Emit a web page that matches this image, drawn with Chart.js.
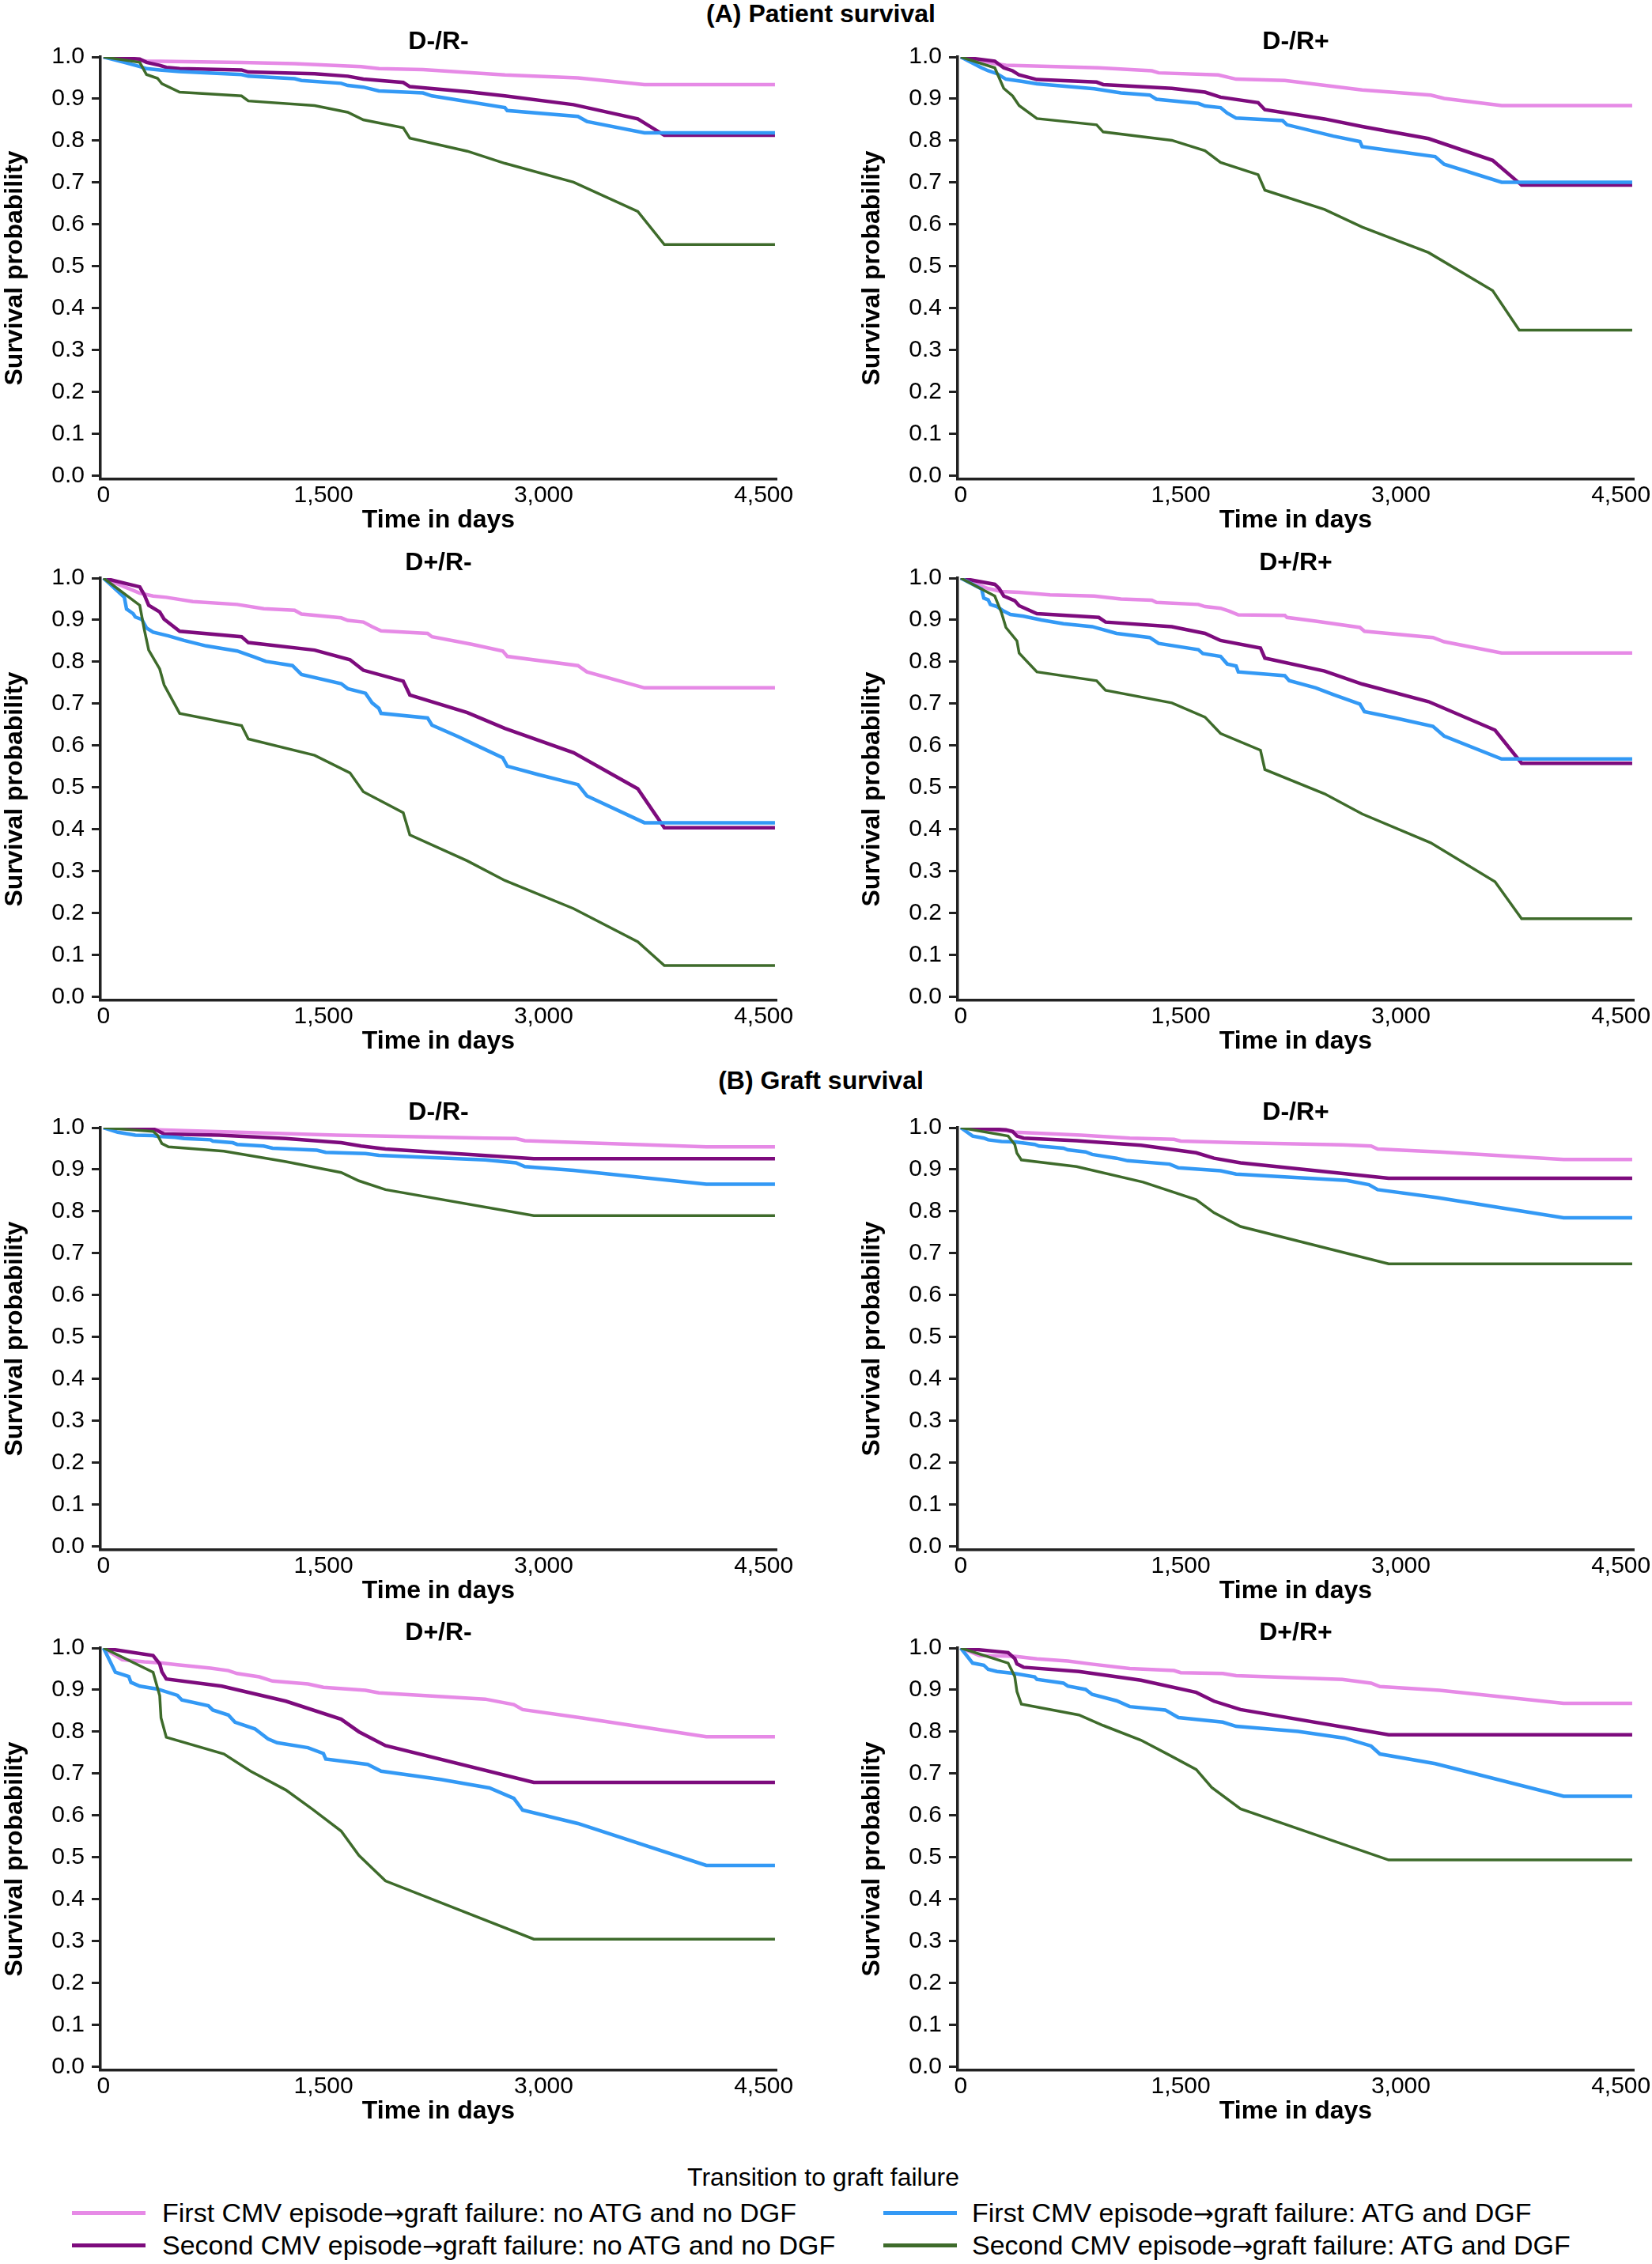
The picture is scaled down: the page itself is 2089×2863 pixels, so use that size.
<!DOCTYPE html>
<html>
<head>
<meta charset="utf-8">
<script src="https://cdn.jsdelivr.net/npm/chart.js@4.4.1/dist/chart.umd.min.js"></script>
<style>
  html, body { margin: 0; padding: 0; background: #fff; }
  body { width: 2089px; height: 2863px; position: relative; overflow: hidden;
         font-family: "Liberation Sans", Arial, sans-serif; color: #000; }
  .box { position: absolute; }
  .section { position: absolute; left: 0; width: 2076px; text-align: center;
             font-weight: bold; font-size: 32px; line-height: 38px; }
  .legtitle { position: absolute; left: 0; width: 2082px; text-align: center; font-size: 32px; line-height: 36px; }
  .legitem { position: absolute; font-size: 34px; line-height: 38px; white-space: nowrap; }
  .arrow { font-family: "DejaVu Sans", sans-serif; font-size: 31px; }
  .swatch { position: absolute; height: 5px; }
</style>
</head>
<body>
<div class="section" style="top:-2px">(A) Patient survival</div>
<div class="section" style="top:1347px">(B) Graft survival</div>

<div class="box" style="left:0;top:26px"><canvas id="a1" width="1044" height="651"></canvas></div>
<div class="box" style="left:1084px;top:26px"><canvas id="a2" width="1044" height="651"></canvas></div>
<div class="box" style="left:0;top:685px"><canvas id="a3" width="1044" height="651"></canvas></div>
<div class="box" style="left:1084px;top:685px"><canvas id="a4" width="1044" height="651"></canvas></div>
<div class="box" style="left:0;top:1380px"><canvas id="b1" width="1044" height="651"></canvas></div>
<div class="box" style="left:1084px;top:1380px"><canvas id="b2" width="1044" height="651"></canvas></div>
<div class="box" style="left:0;top:2038px"><canvas id="b3" width="1044" height="651"></canvas></div>
<div class="box" style="left:1084px;top:2038px"><canvas id="b4" width="1044" height="651"></canvas></div>

<div class="legtitle" style="top:2735px">Transition to graft failure</div>
<div id="legend"></div>

<script>
// ---- data (time in days, survival probability) ----
var panelTitles = ['D-/R-', 'D-/R+', 'D+/R-', 'D+/R+'];
var seriesLabels = [
    'First CMV episode\u2192graft failure: no ATG and no DGF',
    'Second CMV episode\u2192graft failure: no ATG and no DGF',
    'First CMV episode\u2192graft failure: ATG and DGF',
    'Second CMV episode\u2192graft failure: ATG and DGF'
];
var xTickValues = [0, 1500, 3000, 4500];
var xTickLabels = ['0', '1,500', '3,000', '4,500'];
var yTickValues = [0, 0.1, 0.2, 0.3, 0.4, 0.5, 0.6, 0.7, 0.8, 0.9, 1.0];
var yTickLabels = ['0.0', '0.1', '0.2', '0.3', '0.4', '0.5', '0.6', '0.7', '0.8', '0.9', '1.0'];

// (A) patient survival, D-/R-
var patA1First = [[0,1],[293,0.990],[941,0.987],[1303,0.984],[1756,0.977],[1877,0.972],[2178,0.970],[2736,0.957],[3234,0.950],[3687,0.934],[4577,0.934]];
var patA1Second = [[0,1],[247,0.995],[293,0.987],[383,0.980],[428,0.975],[519,0.972],[941,0.969],[987,0.964],[1439,0.960],[1665,0.954],[1771,0.947],[2043,0.939],[2088,0.929],[2480,0.917],[2736,0.907],[3204,0.886],[3642,0.852],[3823,0.813],[4577,0.813]];
var patA1FirstAtg = [[0,1],[142,0.987],[247,0.977],[293,0.972],[383,0.969],[519,0.965],[941,0.958],[987,0.954],[1303,0.948],[1349,0.944],[1620,0.937],[1665,0.932],[1771,0.928],[1877,0.919],[2178,0.914],[2239,0.907],[2736,0.879],[2752,0.872],[3234,0.858],[3295,0.846],[3687,0.819],[4577,0.819]];
var patA1SecondAtg = [[0,1],[247,0.987],[293,0.958],[368,0.949],[398,0.936],[519,0.916],[941,0.907],[987,0.895],[1439,0.884],[1665,0.868],[1771,0.850],[2043,0.831],[2088,0.806],[2480,0.775],[2736,0.746],[3204,0.701],[3642,0.631],[3823,0.552],[4577,0.552]];

// (A) patient survival, D-/R+
var patA2First = [[0,1],[247,0.983],[308,0.980],[941,0.974],[1303,0.967],[1349,0.962],[1756,0.957],[1877,0.947],[2209,0.944],[2736,0.921],[3204,0.909],[3295,0.901],[3687,0.884],[4577,0.884]];
var patA2Second = [[0,1],[232,0.990],[293,0.974],[353,0.967],[398,0.957],[519,0.946],[926,0.940],[971,0.934],[1439,0.925],[1665,0.916],[1771,0.904],[2027,0.891],[2073,0.874],[2480,0.852],[2736,0.834],[3189,0.805],[3626,0.753],[3823,0.694],[4577,0.694]];
var patA2FirstAtg = [[0,1],[142,0.974],[187,0.967],[247,0.960],[308,0.947],[413,0.942],[519,0.936],[911,0.924],[1092,0.914],[1288,0.909],[1334,0.899],[1620,0.889],[1665,0.883],[1771,0.879],[1816,0.866],[1877,0.854],[2194,0.848],[2224,0.838],[2540,0.811],[2721,0.798],[2736,0.786],[2963,0.775],[3234,0.762],[3295,0.744],[3687,0.701],[4577,0.701]];
var patA2SecondAtg = [[0,1],[232,0.974],[293,0.925],[353,0.907],[398,0.884],[519,0.853],[926,0.838],[971,0.821],[1439,0.801],[1665,0.776],[1771,0.748],[2027,0.719],[2073,0.682],[2480,0.636],[2736,0.594],[3189,0.533],[3626,0.442],[3807,0.348],[4577,0.348]];

// (A) patient survival, D+/R-
var patA3First = [[0,1],[157,0.977],[247,0.964],[338,0.957],[428,0.954],[609,0.944],[911,0.937],[1092,0.927],[1303,0.923],[1349,0.914],[1620,0.905],[1665,0.899],[1771,0.895],[1831,0.884],[1892,0.874],[2209,0.868],[2239,0.860],[2510,0.842],[2721,0.826],[2752,0.813],[3234,0.791],[3295,0.776],[3687,0.738],[4577,0.738]];
var patA3Second = [[0,1],[247,0.979],[278,0.960],[308,0.935],[383,0.919],[413,0.902],[519,0.873],[941,0.860],[987,0.846],[1439,0.828],[1680,0.805],[1771,0.780],[2043,0.754],[2088,0.721],[2480,0.679],[2736,0.641],[3204,0.583],[3642,0.497],[3823,0.404],[4577,0.404]];
var patA3FirstAtg = [[0,1],[142,0.954],[157,0.926],[202,0.915],[217,0.907],[262,0.901],[293,0.881],[338,0.871],[443,0.862],[549,0.851],[700,0.838],[911,0.826],[1032,0.811],[1107,0.801],[1288,0.791],[1349,0.770],[1620,0.748],[1665,0.736],[1786,0.725],[1831,0.702],[1877,0.689],[1892,0.677],[2209,0.666],[2239,0.649],[2420,0.621],[2540,0.601],[2721,0.571],[2752,0.551],[2963,0.531],[3234,0.507],[3295,0.480],[3687,0.416],[4577,0.416]];
var patA3SecondAtg = [[0,1],[247,0.935],[278,0.877],[308,0.828],[383,0.783],[413,0.745],[519,0.677],[941,0.648],[987,0.616],[1439,0.577],[1680,0.535],[1771,0.490],[2043,0.440],[2088,0.387],[2480,0.325],[2736,0.278],[3204,0.211],[3642,0.132],[3823,0.075],[4577,0.075]];

// (A) patient survival, D+/R+
var patA4First = [[0,1],[187,0.975],[278,0.968],[398,0.966],[609,0.960],[911,0.957],[1092,0.950],[1303,0.947],[1334,0.942],[1620,0.937],[1665,0.932],[1771,0.928],[1831,0.921],[1892,0.912],[2209,0.911],[2224,0.906],[2420,0.897],[2721,0.882],[2752,0.873],[3219,0.858],[3295,0.848],[3687,0.821],[4577,0.821]];
var patA4Second = [[0,1],[232,0.985],[262,0.975],[293,0.957],[368,0.946],[398,0.934],[519,0.915],[941,0.906],[987,0.895],[1439,0.884],[1665,0.868],[1771,0.851],[2043,0.833],[2073,0.809],[2480,0.778],[2736,0.747],[3189,0.705],[3642,0.637],[3823,0.558],[4577,0.558]];
var patA4FirstAtg = [[0,1],[142,0.974],[157,0.952],[187,0.948],[202,0.937],[247,0.932],[293,0.921],[338,0.913],[428,0.909],[549,0.900],[700,0.891],[896,0.884],[1062,0.868],[1288,0.858],[1349,0.844],[1620,0.829],[1650,0.820],[1771,0.813],[1816,0.795],[1877,0.790],[1892,0.776],[2209,0.767],[2239,0.755],[2420,0.738],[2540,0.722],[2721,0.699],[2752,0.681],[2963,0.666],[3219,0.646],[3295,0.623],[3687,0.568],[4577,0.568]];
var patA4SecondAtg = [[0,1],[232,0.957],[278,0.917],[308,0.882],[383,0.850],[398,0.821],[519,0.776],[926,0.755],[987,0.732],[1439,0.702],[1665,0.668],[1771,0.629],[2043,0.589],[2073,0.543],[2480,0.485],[2736,0.437],[3204,0.368],[3642,0.275],[3823,0.187],[4577,0.187]];

// (B) graft survival, D-/R-
var grfB1First = [[0,1],[368,0.995],[911,0.989],[1590,0.982],[2601,0.975],[2812,0.974],[2872,0.969],[3264,0.964],[4109,0.954],[4577,0.954]];
var grfB1Second = [[0,1],[338,0.997],[368,0.993],[413,0.985],[790,0.982],[1243,0.974],[1620,0.964],[1756,0.956],[1922,0.949],[2933,0.926],[4577,0.926]];
var grfB1FirstAtg = [[0,1],[97,0.989],[217,0.982],[338,0.981],[368,0.979],[489,0.977],[549,0.974],[730,0.971],[745,0.968],[881,0.964],[911,0.960],[1092,0.956],[1152,0.951],[1454,0.946],[1515,0.941],[1786,0.938],[1877,0.934],[2601,0.923],[2812,0.916],[2872,0.907],[3204,0.898],[4109,0.865],[4577,0.865]];
var grfB1SecondAtg = [[0,1],[338,0.991],[368,0.982],[398,0.962],[443,0.954],[821,0.944],[1243,0.919],[1620,0.893],[1741,0.873],[1922,0.852],[2933,0.790],[4577,0.790]];

// (B) graft survival, D-/R+
var grfB2First = [[0,1],[323,0.992],[368,0.989],[821,0.982],[1152,0.975],[1454,0.972],[1499,0.968],[1877,0.964],[2601,0.959],[2797,0.956],[2842,0.949],[3264,0.942],[4109,0.924],[4577,0.924]];
var grfB2Second = [[0,1],[308,0.995],[353,0.991],[383,0.980],[428,0.975],[790,0.969],[1228,0.958],[1605,0.940],[1726,0.927],[1907,0.916],[2917,0.879],[4577,0.879]];
var grfB2FirstAtg = [[0,1],[81,0.980],[157,0.975],[187,0.971],[278,0.967],[368,0.966],[504,0.960],[534,0.956],[700,0.951],[730,0.947],[851,0.942],[896,0.936],[1062,0.927],[1137,0.921],[1424,0.913],[1484,0.904],[1771,0.897],[1877,0.889],[2631,0.874],[2782,0.864],[2842,0.852],[3249,0.833],[4109,0.785],[4577,0.785]];
var grfB2SecondAtg = [[0,1],[323,0.980],[368,0.960],[383,0.939],[413,0.923],[790,0.907],[1243,0.870],[1605,0.828],[1726,0.797],[1907,0.764],[2917,0.675],[4577,0.675]];

// (B) graft survival, D+/R-
var grfB3First = [[0,1],[127,0.972],[278,0.967],[398,0.964],[504,0.960],[730,0.952],[851,0.946],[911,0.939],[1062,0.931],[1152,0.921],[1394,0.914],[1499,0.906],[1786,0.899],[1877,0.893],[2601,0.878],[2797,0.865],[2857,0.853],[3264,0.833],[4109,0.788],[4577,0.788]];
var grfB3Second = [[0,1],[338,0.982],[383,0.962],[398,0.943],[428,0.926],[806,0.909],[1243,0.873],[1620,0.830],[1741,0.800],[1922,0.767],[2933,0.679],[4577,0.679]];
var grfB3FirstAtg = [[0,1],[81,0.942],[172,0.932],[187,0.918],[247,0.909],[368,0.902],[504,0.887],[534,0.876],[715,0.862],[745,0.852],[851,0.840],[896,0.823],[1032,0.807],[1122,0.783],[1183,0.774],[1394,0.762],[1499,0.748],[1515,0.735],[1801,0.722],[1892,0.706],[2299,0.686],[2631,0.666],[2797,0.641],[2857,0.613],[3234,0.581],[4109,0.481],[4577,0.481]];
var grfB3SecondAtg = [[0,1],[338,0.942],[383,0.886],[392,0.833],[428,0.787],[821,0.747],[1002,0.706],[1243,0.661],[1424,0.615],[1620,0.563],[1741,0.505],[1922,0.444],[2933,0.305],[4577,0.305]];

// (B) graft survival, D+/R+
var grfB4First = [[0,1],[127,0.982],[368,0.980],[519,0.974],[730,0.969],[881,0.962],[1152,0.951],[1454,0.946],[1499,0.941],[1786,0.939],[1877,0.934],[2601,0.925],[2797,0.916],[2857,0.908],[3264,0.899],[4109,0.868],[4577,0.868]];
var grfB4Second = [[0,1],[323,0.989],[368,0.975],[383,0.962],[428,0.954],[806,0.944],[1228,0.923],[1605,0.894],[1726,0.873],[1907,0.853],[2917,0.793],[4577,0.793]];
var grfB4FirstAtg = [[0,1],[81,0.964],[157,0.959],[187,0.949],[247,0.944],[368,0.939],[504,0.931],[519,0.925],[700,0.916],[730,0.909],[851,0.901],[896,0.889],[1062,0.874],[1152,0.860],[1394,0.852],[1484,0.834],[1786,0.823],[1877,0.813],[2299,0.801],[2616,0.785],[2797,0.766],[2857,0.747],[3234,0.724],[4109,0.646],[4577,0.646]];
var grfB4SecondAtg = [[0,1],[323,0.964],[368,0.932],[383,0.896],[413,0.866],[806,0.840],[971,0.815],[1228,0.780],[1424,0.744],[1605,0.710],[1711,0.667],[1907,0.616],[2917,0.494],[4577,0.494]];

// ---- styles ----
var lineColors = ['#E68AE6', '#7D0B7D', '#3399F5', '#3E6B2B'];
var lineWidths = [4.5, 4.5, 4.5, 3.5];
var drawOrder = [3, 2, 1, 0];   // green on top, then blue, purple, pink
var axisColor = '#222';
var FONT = '"Liberation Sans", Arial, sans-serif';

Chart.defaults.font.family = FONT;
Chart.defaults.color = '#000';

function makePanel(id, title, series) {
    var datasets = series.map(function (s, i) {
        return {
            label: seriesLabels[i],
            data: s.map(function (p) { return { x: p[0], y: p[1] }; }),
            borderColor: lineColors[i],
            borderWidth: lineWidths[i],
            pointRadius: 0,
            tension: 0,
            fill: false,
            order: drawOrder[i]
        };
    });
    new Chart(document.getElementById(id), {
        type: 'line',
        data: { datasets: datasets },
        options: {
            responsive: false,
            animation: false,
            devicePixelRatio: 1,
            layout: { padding: { top: 7.6, left: 0, right: 62, bottom: 0 } },
            plugins: {
                legend: { display: false },
                tooltip: { enabled: false },
                title: {
                    display: true, text: title, fullSize: false,
                    padding: { top: 0, bottom: 0 },
                    font: { size: 32, weight: 'bold', lineHeight: 1.2 }, color: '#000'
                }
            },
            scales: {
                x: {
                    type: 'linear', min: -21, max: 4588,
                    afterBuildTicks: function (s) { s.ticks = xTickValues.map(function (v) { return { value: v }; }); },
                    afterFit: function (s) { s.height = 71; },
                    ticks: {
                        padding: 3, maxRotation: 0, autoSkip: false,
                        font: { size: 30 }, color: '#000',
                        callback: function (v) { return xTickLabels[xTickValues.indexOf(v)]; }
                    },
                    grid: { display: true, drawOnChartArea: false, drawTicks: false },
                    border: { display: true, color: axisColor, width: 3.5 },
                    title: {
                        display: true, text: 'Time in days', color: '#000',
                        padding: { top: 0, bottom: 0 },
                        font: { size: 32, weight: 'bold', lineHeight: 1.2 }
                    }
                },
                y: {
                    type: 'linear', min: -0.008, max: 1.0,
                    afterBuildTicks: function (s) { s.ticks = yTickValues.map(function (v) { return { value: v }; }); },
                    afterFit: function (s) { s.width = 127; },
                    ticks: {
                        padding: 9, font: { size: 30 }, color: '#000',
                        callback: function (v) { return yTickLabels[yTickValues.indexOf(v)]; }
                    },
                    grid: {
                        display: true, drawOnChartArea: false, drawTicks: true,
                        tickLength: 11, tickWidth: 3, tickColor: axisColor
                    },
                    border: { display: true, color: axisColor, width: 3.5 },
                    title: {
                        display: true, text: 'Survival probability', color: '#000',
                        padding: { top: 0, bottom: 0 },
                        font: { size: 32, weight: 'bold', lineHeight: 1.2 }
                    }
                }
            }
        }
    });
}

makePanel('a1', panelTitles[0], [patA1First, patA1Second, patA1FirstAtg, patA1SecondAtg]);
makePanel('a2', panelTitles[1], [patA2First, patA2Second, patA2FirstAtg, patA2SecondAtg]);
makePanel('a3', panelTitles[2], [patA3First, patA3Second, patA3FirstAtg, patA3SecondAtg]);
makePanel('a4', panelTitles[3], [patA4First, patA4Second, patA4FirstAtg, patA4SecondAtg]);
makePanel('b1', panelTitles[0], [grfB1First, grfB1Second, grfB1FirstAtg, grfB1SecondAtg]);
makePanel('b2', panelTitles[1], [grfB2First, grfB2Second, grfB2FirstAtg, grfB2SecondAtg]);
makePanel('b3', panelTitles[2], [grfB3First, grfB3Second, grfB3FirstAtg, grfB3SecondAtg]);
makePanel('b4', panelTitles[3], [grfB4First, grfB4Second, grfB4FirstAtg, grfB4SecondAtg]);

// shared legend: left column = no ATG/DGF, right column = ATG and DGF
var legendPos = [
    { line: 91, text: 205, y: 2798 },
    { line: 91, text: 205, y: 2839 },
    { line: 1117, text: 1229, y: 2798 },
    { line: 1117, text: 1229, y: 2839 }
];
var legend = document.getElementById('legend');
seriesLabels.forEach(function (lab, i) {
    var p = legendPos[i];
    var sw = document.createElement('div');
    sw.className = 'swatch';
    sw.style.left = p.line + 'px';
    sw.style.width = '93px';
    sw.style.top = (p.y - 2) + 'px';
    sw.style.background = lineColors[i];
    legend.appendChild(sw);
    var t = document.createElement('div');
    t.className = 'legitem';
    t.style.left = p.text + 'px';
    t.style.top = (p.y - 19) + 'px';
    var parts = lab.split('\u2192');
    t.appendChild(document.createTextNode(parts[0]));
    var arr = document.createElement('span');
    arr.className = 'arrow';
    arr.textContent = '\u2192';
    t.appendChild(arr);
    t.appendChild(document.createTextNode(parts[1]));
    legend.appendChild(t);
});
</script>
</body>
</html>
